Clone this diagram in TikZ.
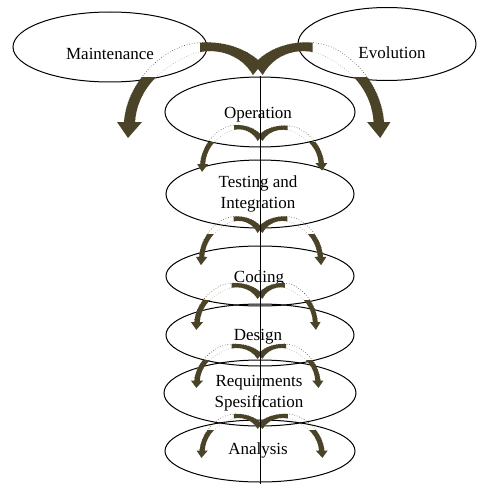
\documentclass[tikz,border=0pt]{standalone}
\usepackage{fontspec}
\setmainfont{Liberation Serif}
\usetikzlibrary{shapes.geometric}
\definecolor{arrcol}{RGB}{74,67,40}
\newcommand\arrshapepath{(4,-9) .. controls (-18,-33) and (-63,-37) .. (-88,-21) .. controls (-108,-9) and (-131,15) .. (-134,49) -- (-141,49) -- (-130,65) -- (-116,49) -- (-123,49) .. controls (-121,20) and (-102,0) .. (-80,-12) .. controls (-55,-29) and (-20,-24) .. (-5,2) -- cycle}
\tikzset{
  curvarr/.pic={
    \draw[arrcol, line width=0.6pt, dotted] (4,-9) .. controls (-18,-33) and (-63,-37) .. (-88,-21) .. controls (-108,-9) and (-131,15) .. (-134,49);
    \draw[arrcol!60, line width=0.5pt, dotted] (-123,49) .. controls (-121,20) and (-102,0) .. (-80,-12) .. controls (-55,-29) and (-20,-24) .. (-5,2);
    \begin{scope}\clip (-58,-60) rectangle (20,20); \fill[arrcol] \arrshapepath; \end{scope}
    \begin{scope}\clip (-200,5) rectangle (-80,90); \fill[arrcol] \arrshapepath; \end{scope}
  },
  ell/.style={draw, ellipse, inner sep=0pt, line width=1pt},
  lbl/.style={font=\fontsize{17}{20.5}\selectfont, align=center, inner sep=0pt},
  axisline/.style={draw, line width=1pt},
}
\begin{document}
\begin{tikzpicture}[x=1pt,y=-1pt]
\useasboundingbox (0,0) rectangle (477,484);
% ellipses
\node[ell, minimum width=194, minimum height=70] (maint) at (110,47) {};
\node[ell, minimum width=178, minimum height=73] (evol) at (387,44) {};
\node[ell, minimum width=190, minimum height=70] (oper) at (260,112) {};
\node[ell, minimum width=188, minimum height=68] (test) at (260,194) {};
\node[ell, minimum width=188, minimum height=60] (cod) at (260,276) {};
\node[ell, minimum width=188, minimum height=62] (des) at (260,335) {};
\node[ell, minimum width=192, minimum height=66] (req) at (260,393) {};
\node[ell, minimum width=190, minimum height=62] (ana) at (260,451) {};
% labels
\node[lbl] (tmaint) at (110,54) {Maintenance};
\node[lbl] (tevol) at (392,53) {Evolution};
\node[lbl] (toper) at (258,115) {Operation};
\node[lbl] (ttest) at (258,194) {Testing and\\Integration};
\node[lbl] (tcod) at (259,278) {Coding};
\node[lbl] (tdes) at (258,337) {Design};
\node[lbl] (treq) at (259,393) {Requirments\\Spesification};
\node[lbl] (tana) at (258,450) {Analysis};
% curved arrows
\pic[xscale=1,yscale=1] at (258,73) {curvarr};
\pic[xscale=-0.94,yscale=1] at (258,73) {curvarr};
\pic[xscale=0.446,yscale=0.49] at (260,140) {curvarr};
\pic[xscale=-0.477,yscale=0.47] at (260,140) {curvarr};
\pic[xscale=0.454,yscale=0.51] at (260,232) {curvarr};
\pic[xscale=-0.47,yscale=0.51] at (260,232) {curvarr};
\pic[xscale=0.49,yscale=0.49] at (260,298) {curvarr};
\pic[xscale=-0.43,yscale=0.49] at (260,298) {curvarr};
\pic[xscale=0.49,yscale=0.46] at (260,358) {curvarr};
\pic[xscale=-0.45,yscale=0.46] at (260,358) {curvarr};
\pic[xscale=0.45,yscale=0.46] at (260,428) {curvarr};
\pic[xscale=-0.48,yscale=0.46] at (260,428) {curvarr};
% vertical axis
\coordinate (bot) at (260,484);
\path[axisline] (oper.north) -- (bot);
\end{tikzpicture}
\end{document}
